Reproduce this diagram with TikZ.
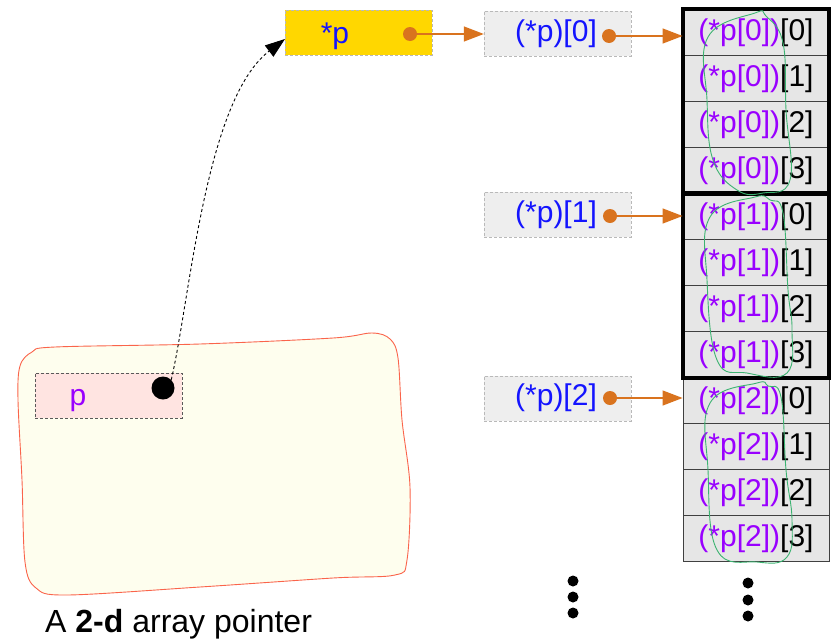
\documentclass[tikz,border=0pt]{standalone}
\usepackage{fontspec}
\setmainfont{Liberation Sans}
\usetikzlibrary{arrows.meta}
\definecolor{txtblue}{RGB}{20,20,255}
\definecolor{txtviolet}{RGB}{153,0,255}
\definecolor{ptrorange}{RGB}{217,115,30}
\definecolor{goldfill}{RGB}{255,215,0}
\definecolor{boxgray}{RGB}{238,238,238}
\definecolor{cellgray}{RGB}{230,230,230}
\definecolor{loopgreen}{RGB}{60,179,113}
\definecolor{creamfill}{RGB}{254,254,238}
\definecolor{creamedge}{RGB}{250,100,75}
\definecolor{rosefill}{RGB}{255,228,225}
\definecolor{dashgray}{RGB}{185,185,185}
\begin{document}
\begin{tikzpicture}[x=1pt,y=-1pt,
  bigfont/.style={font=\fontsize{30}{36}\selectfont},
  valbox/.style={draw=dashgray,dash pattern=on 3pt off 2pt,minimum width=147pt,minimum height=45pt,inner sep=0pt},
  bluetxt/.style={bigfont,text=txtblue,inner sep=0pt},
  odot/.style={circle,fill=ptrorange,minimum size=14pt,inner sep=0pt},
  oarrow/.style={draw=ptrorange,line width=1.3pt,-{Triangle[length=20pt,width=15pt]}},
  cellbox/.style={draw=black!75,fill=cellgray,line width=0.9pt,minimum width=146pt,minimum height=46pt,inner sep=0pt,bigfont},
  thickblock/.style={draw=black,line width=4pt},
  loopline/.style={draw=loopgreen,line width=0.9pt},
  bigdot/.style={circle,fill=black,minimum size=11pt,inner sep=0pt}
]
\useasboundingbox (0,0) rectangle (832,640);

% cream memory region
\path[fill=creamfill,draw=creamedge,line width=0.9pt] plot[smooth cycle,tension=0.55] coordinates {
 (55,347) (200,344) (333,338) (372,333) (390,339) (398,358) (402,420) (410,487) (407,560) (395,575)
 (333,578) (200,587) (67,595) (36,588) (25,562) (22,480) (18,400) (20,366) (32,352)};

% pointer p
\node[valbox,draw=black!65,line width=0.9pt,fill=rosefill] (pbox) at (108.5,395.5) {};
\node[bigfont,text=txtviolet,inner sep=0pt] (ptxt) at (78,401) {p};
\node[circle,fill=black,minimum size=23pt,inner sep=0pt] (pdot) at (163,388) {};

% *p
\node[valbox,fill=goldfill] (sbox) at (358.5,32.5) {};
\node[bluetxt] (stxt) at (335,36) {*p};
\node[odot] (sdot) at (410,34) {};

% (*p)[i] boxes
\node[valbox,fill=boxgray] (r0box) at (557.5,33.5) {};
\node[bluetxt] (r0txt) at (556,34) {(*p)[0]};
\node[odot] (r0dot) at (609,36) {};
\node[valbox,fill=boxgray] (r1box) at (557.5,214.5) {};
\node[bluetxt] (r1txt) at (556,215) {(*p)[1]};
\node[odot] (r1dot) at (610,216) {};
\node[valbox,fill=boxgray] (r2box) at (557.5,398.5) {};
\node[bluetxt] (r2txt) at (556,398) {(*p)[2]};
\node[odot] (r2dot) at (610,398) {};

% cells
\foreach \b in {0,1,2}{
  \foreach \j in {0,1,2,3}{
    \pgfmathsetmacro{\cy}{32.5+46*(4*\b+\j)}
    \node[cellbox] (c\b\j) at (756,\cy) {\textcolor{txtviolet}{(*p[\b])}[\j]};
  }
}
\draw[thickblock] (c00.north west) rectangle (c03.south east);
\draw[thickblock] (c10.north west) rectangle (c13.south east);

% green loops
\draw[loopline] plot[smooth cycle,tension=0.7] coordinates {
 (755,13) (708,37) (707,100) (713,160) (737,190) (763,193) (790,180) (786,110) (783,43) (766,16)};
\draw[loopline] plot[smooth cycle,tension=0.7] coordinates {
 (755,197) (710,217) (707,280) (717,360) (747,373) (787,373) (792,330) (788,290) (783,213) (770,200)};
\draw[loopline] plot[smooth cycle,tension=0.7] coordinates {
 (757,383) (710,403) (708,470) (717,550) (757,562) (787,557) (792,520) (786,470) (781,397) (768,386)};

% orange arrows
\draw[oarrow] (sdot.center) -- (r0box.west |- sdot);
\draw[oarrow] (r0dot.center) -- (c00.west |- r0dot);
\draw[oarrow] (r1dot.center) -- (c10.west |- r1dot);
\draw[oarrow] (r2dot.center) -- (c20.west |- r2dot);

% dashed pointer from p to *p
\coordinate (sin) at (285,39);
\draw[black,line width=0.9pt,dash pattern=on 3pt off 2.5pt,-{Triangle[length=20pt,width=14pt]}]
  (pdot.north east) .. controls (190,300) and (205,100) .. (sin);

% ellipsis dots
\foreach \k/\yy in {1/581,2/597,3/613}{
  \node[bigdot] (la\k) at (573,\yy) {};
}
\foreach \k/\yy in {1/583,2/600,3/616}{
  \node[bigdot] (ra\k) at (748,\yy) {};
}

% caption
\node[anchor=base west,inner sep=0pt,font=\fontsize{32}{38}\selectfont] (cap) at (45,632) {A \textbf{2-d} array pointer};
\end{tikzpicture}
\end{document}
